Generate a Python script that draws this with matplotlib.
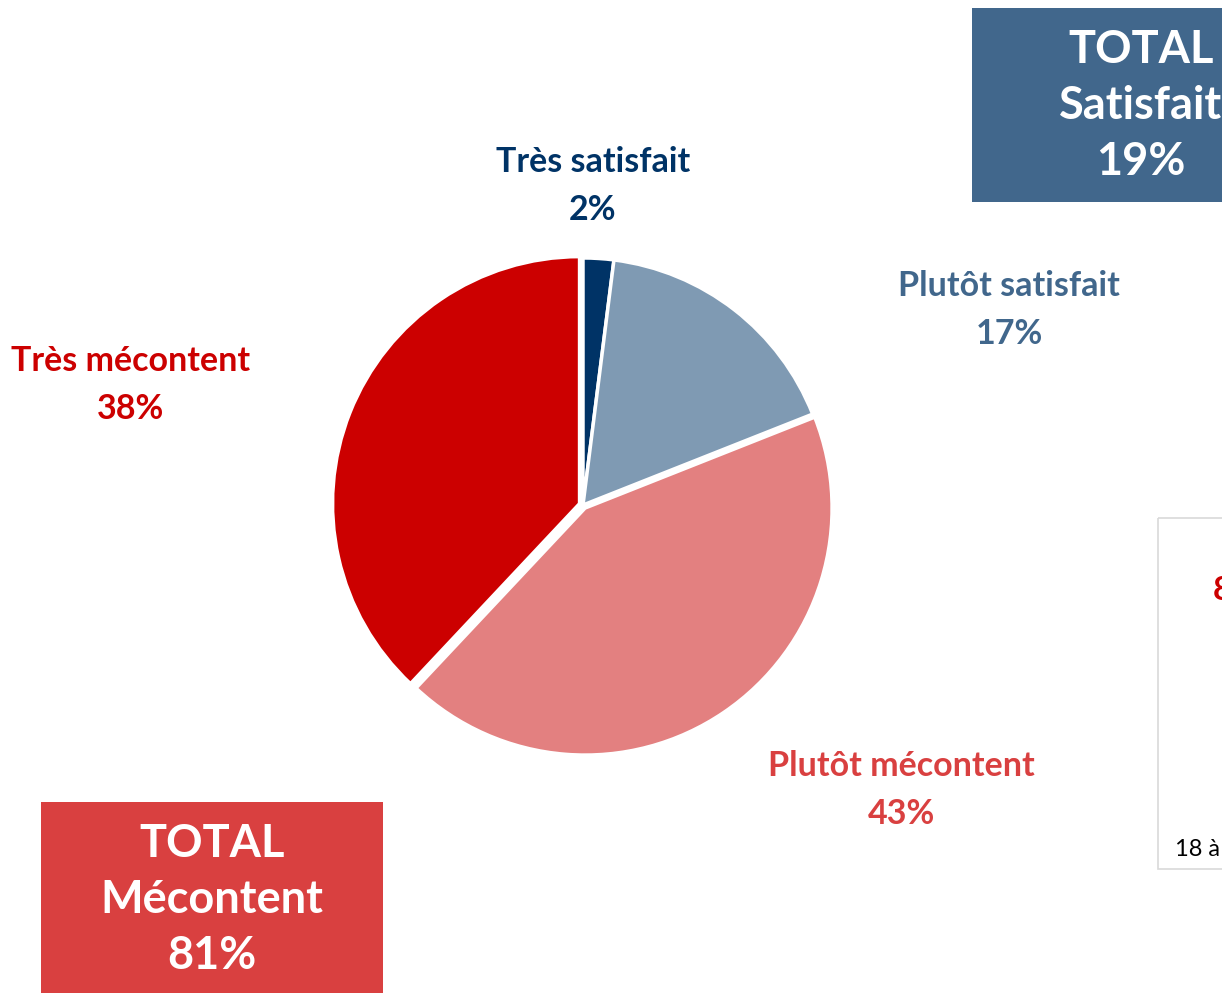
import matplotlib.pyplot as plt
from matplotlib.patches import Rectangle

# Data
labels = ["Très satisfait", "Plutôt satisfait", "Plutôt mécontent", "Très mécontent"]
values = [2, 17, 43, 38]
slice_colors = ["#003366", "#7f9ab3", "#e38080", "#cc0000"]
label_colors = ["#003366", "#41678c", "#d94040", "#cc0000"]
total_satisfait = 19
total_mecontent = 81

plt.rcParams["font.family"] = ["Lato", "DejaVu Sans"]

W, H = 1222, 993
fig = plt.figure(figsize=(W / 100, H / 100), dpi=100)

# overlay axes in pixel coordinates for labels and boxes
ov = fig.add_axes([0, 0, 1, 1])
ov.set_xlim(0, W)
ov.set_ylim(H, 0)
ov.axis("off")

# pie axes: center ~ (583, 505), radius ~ 247 px
cx, cy, r = 583, 505, 247
ax = fig.add_axes([(cx - r) / W, (H - cy - r) / H, 2 * r / W, 2 * r / H])
ax.pie(values, colors=slice_colors, startangle=90, counterclock=False,
       explode=[0, 0, 0.015, 0.015],
       wedgeprops=dict(edgecolor="white", linewidth=2.5))
ax.set_xlim(-1.0, 1.0)
ax.set_ylim(-1.0, 1.0)
ax.set_aspect("equal")

# slice labels (same order as labels)
label_pos = [(593, 186), (1009, 310), (901, 790), (131, 385)]
for lab, v, c, (x, y) in zip(labels, values, label_colors, label_pos):
    ov.text(x, y, f"{lab}\n{v}%", color=c, fontsize=24.5, fontweight="bold",
            ha="center", va="center", linespacing=1.6)

# total boxes
ov.add_patch(Rectangle((972, 8), 300, 194, facecolor="#41678c", edgecolor="none"))
ov.text(1141, 106, f"TOTAL\nSatisfait\n{total_satisfait}%", color="white",
        fontsize=32.5, fontweight="bold", ha="center", va="center", linespacing=1.42)

ov.add_patch(Rectangle((41, 802), 342, 194, facecolor="#d94040", edgecolor="none"))
ov.text(212, 900, f"TOTAL\nMécontent\n{total_mecontent}%", color="white",
        fontsize=32.5, fontweight="bold", ha="center", va="center", linespacing=1.42)

# cropped neighbouring panel on the right
ov.add_patch(Rectangle((1158, 518), 120, 351, facecolor="none", edgecolor="#d9d9d9", linewidth=1.2))
ov.text(1213, 590, "8", color="#cc0000", fontsize=24, fontweight="bold", ha="left", va="center")
ov.text(1175, 850, "18 à", color="black", fontsize=17, ha="left", va="center")

fig.savefig("out.png", dpi=100)
